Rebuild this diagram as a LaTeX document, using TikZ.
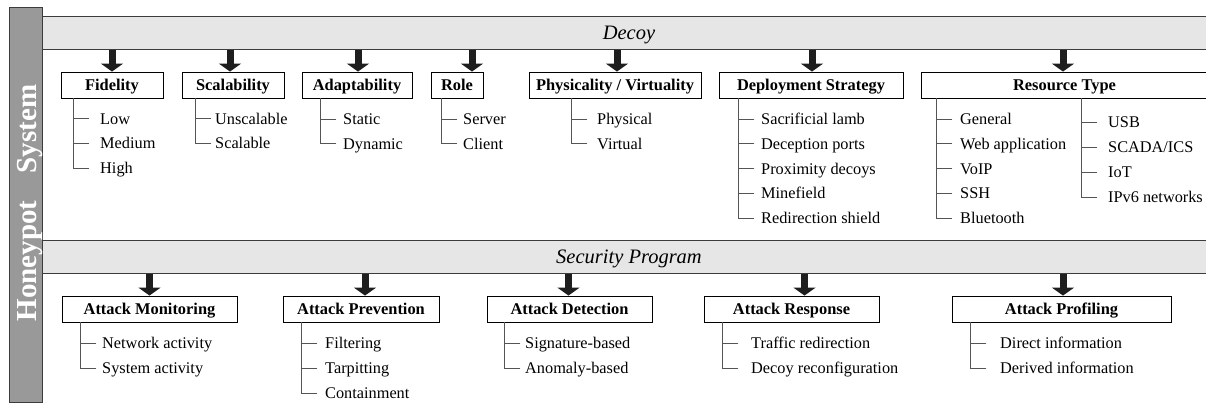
\documentclass[tikz,border=0pt]{standalone}
\usepackage{fontspec}
\setmainfont{Liberation Serif}
\usetikzlibrary{arrows.meta}
\definecolor{bannerfill}{HTML}{E6E6E6}
\definecolor{bannerline}{HTML}{3C3C3C}
\definecolor{sidefill}{HTML}{999999}
\definecolor{arrowcol}{HTML}{1E1E1E}
\definecolor{treecol}{HTML}{555555}
% #1 prefix, #2 box, #3 vertical x, #4 text x, #5 first y, #6 step, #7 list, #8 count
\newcommand\itemlist[8]{%
  \foreach \itm [count=\i] in {#7} {
    \pgfmathsetmacro\yy{#5+#6*(\i-1)}
    \node[item] (#1-\i) at (#4,\yy+5.5) {\itm};
    \draw[tree] (#3,\yy) -- ++(16,0);
  }
  \draw[tree] (#3,0 |- #2.south) -- (#3,{#5+#6*(#8-1)});
}
\begin{document}
\begin{tikzpicture}[x=1pt,y=-1pt,
  banner/.style={draw=bannerline, line width=1.3pt, fill=bannerfill, inner sep=0pt, anchor=north west, minimum width=1167pt, minimum height=33pt},
  catbox/.style={draw=black, line width=0.9pt, fill=white, minimum height=26pt, inner sep=0pt, text height=11pt, text depth=0pt, font=\fontsize{16.4}{20}\selectfont\bfseries},
  item/.style={anchor=base west, inner sep=0pt, font=\fontsize{16.3}{20}\selectfont},
  title/.style={anchor=base, inner sep=0pt, font=\fontsize{20.5}{24}\selectfont\itshape},
  sidetext/.style={anchor=base, inner sep=0pt, rotate=90, text=white, font=\fontsize{29}{32}\selectfont\bfseries},
  bigarrow/.style={draw=arrowcol, line width=7pt, -{Triangle[width=22pt,length=8pt]}},
  tree/.style={draw=treecol, line width=0.9pt, line cap=rect},
]
\useasboundingbox (0,0) rectangle (1206,405);
\fill[white] (0,0) rectangle (1206,405);

% banners
\node[banner] (decoy) at (42,16) {};
\node[banner] (secprog) at (42,240) {};
\node[title] (decoyt) at (629,39.5) {Decoy};
\node[title] (secprogt) at (629,263.5) {Security Program};

% side bar
\node[draw=bannerline, fill=sidefill, line width=1.2pt, minimum width=33.5pt, minimum height=395pt, anchor=north west, inner sep=0pt] (side) at (8.5,7) {};
\node[sidetext] (sys) at (36.5,129) {System};
\node[sidetext] (hon) at (36.5,261) {Honeypot};

% top category boxes
\node[catbox, minimum width=102pt] (fid) at (112,85) {Fidelity};
\node[catbox, minimum width=102pt] (sca) at (233,85) {Scalability};
\node[catbox, minimum width=110pt] (ada) at (357,85) {Adaptability};
\node[catbox, minimum width=52pt] (rol) at (457,85) {Role};
\node[catbox, minimum width=172pt] (phy) at (615,85) {Physicality / Virtuality};
\node[catbox, minimum width=184pt] (dep) at (811,85) {Deployment Strategy};
\node[catbox, minimum width=290pt] (res) at (1066,85) {\hspace*{-3pt}Resource Type};

% bottom category boxes
\node[catbox, minimum width=175pt] (mon) at (149.5,309) {Attack Monitoring};
\node[catbox, minimum width=156pt] (pre) at (361,309) {Attack Prevention};
\node[catbox, minimum width=165pt] (det) at (569.5,309) {Attack Detection};
\node[catbox, minimum width=175pt] (rsp) at (791.5,309) {Attack Response};
\node[catbox, minimum width=219pt] (pro) at (1061.5,309) {Attack Profiling};

% arrows
\draw[bigarrow] (decoy.south -| fid.north) -- (fid.north);
\draw[bigarrow] ([xshift=-3pt]sca.north |- decoy.south) -- ([xshift=-3pt]sca.north);
\draw[bigarrow] ([xshift=1pt]ada.north |- decoy.south) -- ([xshift=1pt]ada.north);
\draw[bigarrow] ([xshift=15pt]rol.north |- decoy.south) -- ([xshift=15pt]rol.north);
\draw[bigarrow] ([xshift=2pt]phy.north |- decoy.south) -- ([xshift=2pt]phy.north);
\draw[bigarrow] ([xshift=1pt]dep.north |- decoy.south) -- ([xshift=1pt]dep.north);
\draw[bigarrow] ([xshift=-3pt]res.north |- decoy.south) -- ([xshift=-3pt]res.north);
\draw[bigarrow] (secprog.south -| mon.north) -- (mon.north);
\draw[bigarrow] ([xshift=4pt]pre.north |- secprog.south) -- ([xshift=4pt]pre.north);
\draw[bigarrow] ([xshift=-1pt]det.north |- secprog.south) -- ([xshift=-1pt]det.north);
\draw[bigarrow] ([xshift=13pt]rsp.north |- secprog.south) -- ([xshift=13pt]rsp.north);
\draw[bigarrow] ([xshift=1.5pt]pro.north |- secprog.south) -- ([xshift=1.5pt]pro.north);

% item lists
\itemlist{fidi}{fid}{73}{100}{118.5}{24.8}{Low,Medium,High}{3}
\itemlist{scai}{sca}{195}{215}{118.5}{24.8}{Unscalable,Scalable}{2}
\itemlist{adai}{ada}{320}{343}{119}{24.8}{Static,Dynamic}{2}
\itemlist{roli}{rol}{441}{463}{119}{24.8}{Server,Client}{2}
\itemlist{phyi}{phy}{571}{597}{119}{24.8}{Physical,Virtual}{2}
\itemlist{depi}{dep}{738}{761}{119}{24.8}{Sacrificial lamb,Deception ports,Proximity decoys,Minefield,Redirection shield}{5}
\itemlist{resa}{res}{936}{960}{119}{24.8}{General,Web application,VoIP,SSH,Bluetooth}{5}
\itemlist{resb}{res}{1081}{1108}{122.3}{24.9}{USB,SCADA/ICS,IoT,IPv6 networks}{4}
\itemlist{moni}{mon}{80}{102}{343}{25}{Network activity,System activity}{2}
\itemlist{prei}{pre}{301}{325}{343}{25}{Filtering,Tarpitting,Containment}{3}
\itemlist{deti}{det}{504}{525}{343}{25}{Signature-based,Anomaly-based}{2}
\itemlist{rspi}{rsp}{722}{751}{343}{25}{Traffic redirection,Decoy reconfiguration}{2}
\itemlist{proi}{pro}{970}{1000}{343}{25}{Direct information,Derived information}{2}
\end{tikzpicture}
\end{document}
